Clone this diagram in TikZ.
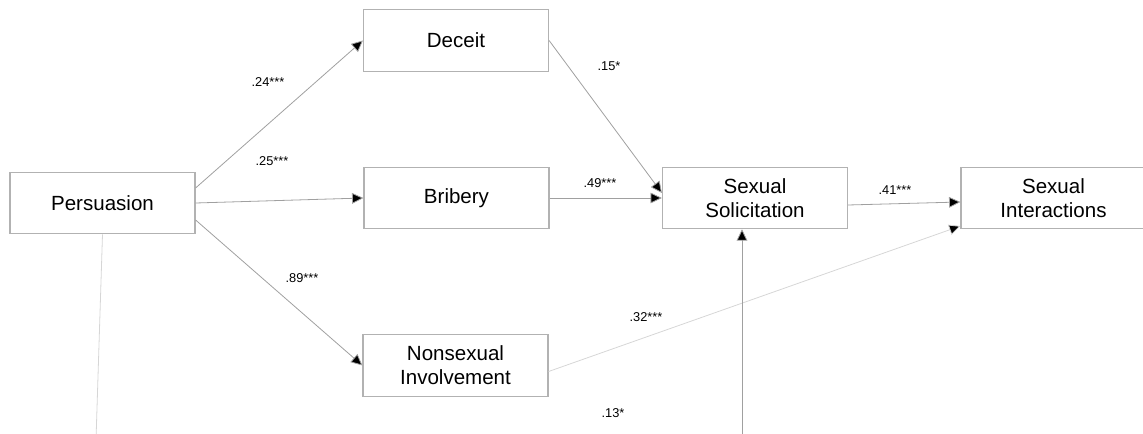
\documentclass[tikz,border=0pt]{standalone}
\usepackage{fontspec}
\setmainfont{Liberation Sans}
\usetikzlibrary{arrows.meta}

\definecolor{boxgray}{RGB}{178,178,178}
\definecolor{linegray}{RGB}{160,160,160}
\definecolor{palegray}{RGB}{214,214,214}

\begin{document}
\begin{tikzpicture}[x=0.75pt,y=0.75pt,yscale=-1,
	varbox/.style={draw=boxgray,line width=0.9pt,minimum width=138.75pt,minimum height=46pt,
		inner sep=0pt,align=center,font=\fontsize{15.4}{18}\selectfont},
	coef/.style={inner sep=0.75pt,font=\fontsize{9.6}{11}\selectfont},
	path/.style={draw=linegray,line width=0.6pt,-{Triangle[length=8.5pt,width=8pt,fill=black]}},
	faint/.style={draw=palegray,line width=0.6pt}]
	%set diagram to 1143 x 434
	\useasboundingbox (0,0) rectangle (1143,434);

	% Boxes
	\node[varbox] (pers) at (102.5,203) {Persuasion};
	\node[varbox] (dec) at (456,40.5) {Deceit};
	\node[varbox] (bri) at (456.5,198) {Bribery};
	\node[varbox] (non) at (455.5,365.5) {Nonsexual\\ Involvement};
	\node[varbox] (sol) at (755,198) {Sexual\\Solicitation};
	\node[varbox] (inter) at (1053.5,198) {Sexual\\Interactions};

	% Loose ends at the bottom edge
	\coordinate (persend) at (96,440);
	\coordinate (solend) at (742,440);

	% Paths (yshift runs downwards here)
	\draw[path] ([yshift=-11.25pt]pers.east) -- (dec.west);
	\draw[path] (pers.east) -- (bri.west);
	\draw[path] ([yshift=12.75pt]pers.east) -- (non.west);
	\draw[path] (dec.east) -- ([yshift=-3.75pt]sol.west);
	\draw[path] (bri.east) -- (sol.west);
	\draw[path] ([yshift=5.25pt]sol.east) -- ([yshift=3pt]inter.west);
	\draw[path,draw=palegray] ([yshift=4.5pt]non.east) -- ([yshift=21pt]inter.west);
	\draw[path] (solend) -- (solend |- sol.south);
	\draw[faint] (pers.south) -- (persend);

	% Text Node
	\node[coef] (c1) at (268,82) {.24***};
	% Text Node
	\node[coef] (c2) at (272,161) {.25***};
	% Text Node
	\node[coef] (c3) at (302,278) {.89***};
	% Text Node
	\node[coef] (c4) at (609,66) {.15*};
	% Text Node
	\node[coef] (c5) at (600,183) {.49***};
	% Text Node
	\node[coef] (c6) at (895,190) {.41***};
	% Text Node
	\node[coef] (c7) at (646,317) {.32***};
	% Text Node
	\node[coef] (c8) at (613,413) {.13*};

\end{tikzpicture}
\end{document}
